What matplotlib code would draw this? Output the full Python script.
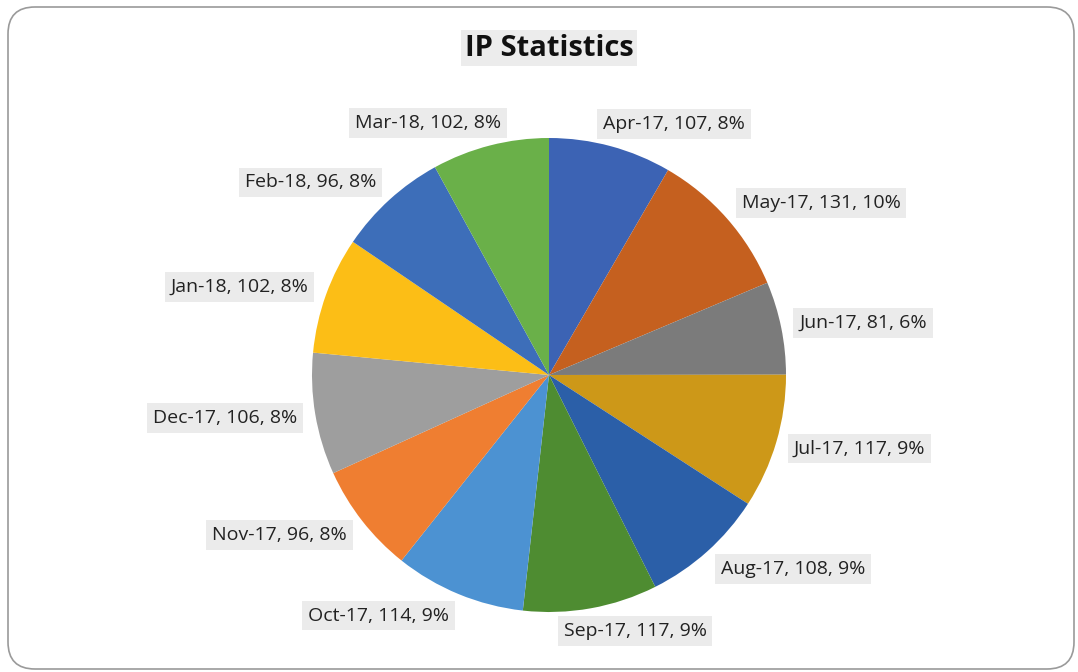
import numpy as np
import matplotlib
matplotlib.use("Agg")
import matplotlib.pyplot as plt
from matplotlib.patches import FancyBboxPatch

months = ["Apr-17", "May-17", "Jun-17", "Jul-17", "Aug-17", "Sep-17",
          "Oct-17", "Nov-17", "Dec-17", "Jan-18", "Feb-18", "Mar-18"]
counts = [107, 131, 81, 117, 108, 117, 114, 96, 106, 102, 96, 102]
# percentages as printed on the chart
percents = [8, 10, 6, 9, 9, 9, 9, 8, 8, 8, 8, 8]
colors = ["#3c63b4", "#c5601f", "#7b7b7b", "#cd9818", "#2b5fa8", "#4e8c31",
          "#4c92d2", "#ef7e31", "#9e9e9e", "#fcbe16", "#3d6eb9", "#6ab049"]

plt.rcParams['font.family'] = ['Open Sans', 'DejaVu Sans']

W, H = 1078, 672
fig = plt.figure(figsize=(W / 100, H / 100), dpi=100)
fig.patch.set_facecolor("white")

# rounded chart frame
frame = FancyBboxPatch((8 / W, 3 / H), 1066 / W, 662 / H,
                       boxstyle="round,pad=0,rounding_size=0.025",
                       transform=fig.transFigure, facecolor="none",
                       edgecolor="#9a9a9a", linewidth=1.2, mutation_aspect=W / H,
                       zorder=-1)
fig.patches.append(frame)

ax = fig.add_axes([0, 0, 1, 1])
ax.patch.set_alpha(0)

cx, cy, r = 549, H - 375, 237
wedges, _ = ax.pie(counts, colors=colors, startangle=90, counterclock=False,
                   center=(cx, cy), radius=r, frame=True,
                   wedgeprops=dict(linewidth=0))
ax.set_xlim(0, W)
ax.set_ylim(0, H)
ax.set_aspect("equal")
ax.axis("off")

fig.text(549 / W, 1 - 48 / H, "IP Statistics", ha="center", va="center",
         fontsize=21, fontweight="bold", color="#111111",
         bbox=dict(boxstyle="square,pad=0.12", fc="#ececec", ec="none"))

renderer = fig.canvas.get_renderer()
R = r * 1.06
for w, m, c, p in zip(wedges, months, counts, percents):
    ang = np.deg2rad((w.theta1 + w.theta2) / 2)
    ux, uy = np.cos(ang), np.sin(ang)
    t = ax.text(0, 0, f"{m}, {c}, {p}%", ha="center", va="center",
                fontsize=14, color="#222222",
                bbox=dict(boxstyle="square,pad=0.3", fc="#ebebeb", ec="none"))
    bb = t.get_window_extent(renderer)
    tw, th = bb.width, bb.height
    fx = np.clip(ux * 3, -1, 1)
    t.set_position((cx + R * ux + tw / 2 * fx + 4 * np.sign(ux),
                    cy + R * uy + th / 2 * uy))

fig.savefig("out.png", dpi=100)
